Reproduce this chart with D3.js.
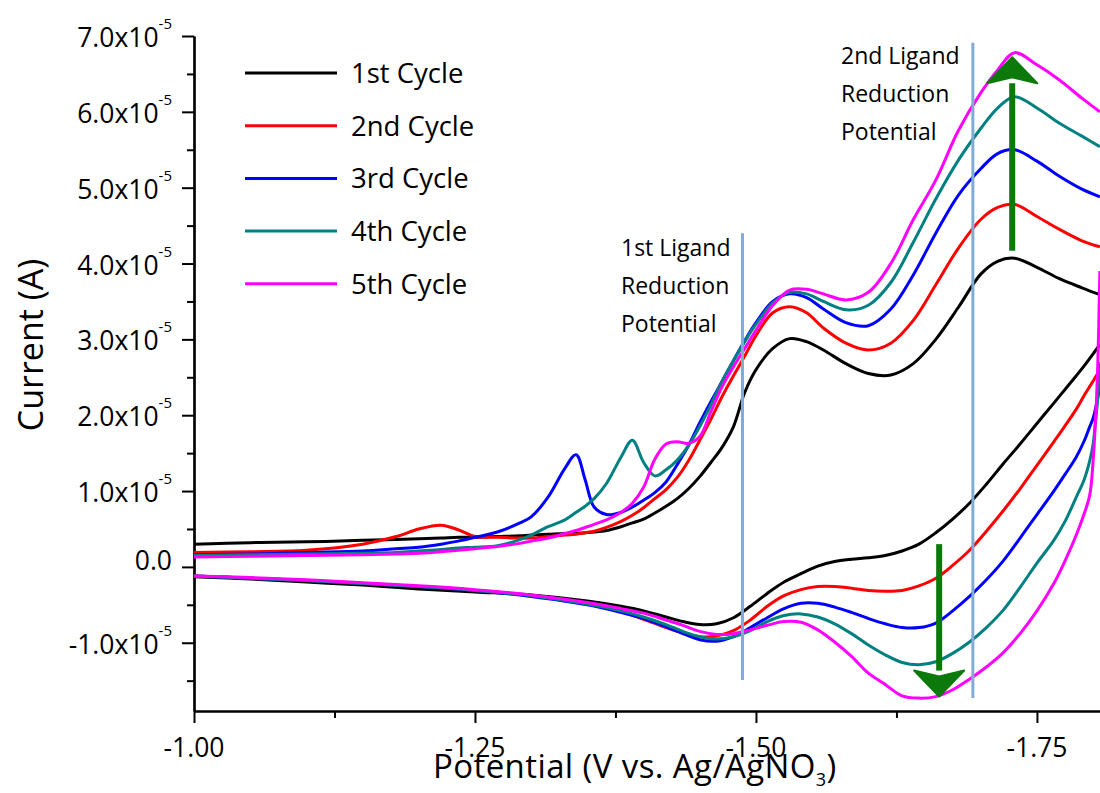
<!DOCTYPE html>
<html>
<head>
<meta charset="utf-8">
<script src="https://cdn.jsdelivr.net/npm/d3@7"></script>
<style>
  body { margin: 0; background: #fff; }
  text { font-family: "Open Sans", sans-serif; fill: #000; }
</style>
</head>
<body>
<div id="chart"></div>
<script>
// potentials (V vs Ag/AgNO3) for the forward (cathodic) and return scans
var potentialFwd = [-1.00, -1.05, -1.10, -1.15, -1.18, -1.20, -1.22, -1.235, -1.25, -1.27, -1.29, -1.30,
  -1.315, -1.33, -1.34, -1.348, -1.356, -1.367, -1.38, -1.39, -1.40, -1.41, -1.42, -1.43, -1.44, -1.45,
  -1.46, -1.47, -1.48, -1.49, -1.50, -1.515, -1.53, -1.545, -1.56, -1.58, -1.60, -1.62, -1.64, -1.66,
  -1.68, -1.70, -1.715, -1.73, -1.75, -1.77, -1.79, -1.806];

var potentialRev = [-1.806, -1.804, -1.802, -1.80, -1.797, -1.792, -1.785, -1.775, -1.765, -1.75,
  -1.735, -1.72, -1.705, -1.69, -1.675, -1.66, -1.645, -1.63, -1.615, -1.60,
  -1.585, -1.57, -1.555, -1.54, -1.525, -1.51, -1.495, -1.48, -1.465, -1.45,
  -1.435, -1.42, -1.40, -1.38, -1.35, -1.30, -1.25, -1.20, -1.15, -1.10, -1.05, -1.00];

// current in units of 1e-5 A
var cycle1Fwd = [0.30, 0.32, 0.33, 0.35, 0.36, 0.37, 0.38, 0.39, 0.39, 0.40, 0.41, 0.42, 0.43, 0.44, 0.44, 0.45,
  0.46, 0.48, 0.53, 0.58, 0.63, 0.71, 0.80, 0.90, 1.03, 1.19, 1.38, 1.58, 1.85, 2.30, 2.60, 2.88, 3.01, 2.97,
  2.86, 2.68, 2.55, 2.53, 2.68, 3.00, 3.42, 3.86, 4.03, 4.07, 3.95, 3.80, 3.68, 3.59];
var cycle2Fwd = [0.19, 0.20, 0.22, 0.30, 0.40, 0.50, 0.55, 0.49, 0.40, 0.39, 0.38, 0.38, 0.40, 0.42, 0.43, 0.45,
  0.47, 0.52, 0.60, 0.68, 0.78, 0.90, 1.02, 1.18, 1.40, 1.67, 1.95, 2.25, 2.52, 2.78, 3.05, 3.35, 3.43, 3.35,
  3.15, 2.95, 2.86, 2.95, 3.25, 3.72, 4.20, 4.58, 4.74, 4.78, 4.62, 4.45, 4.30, 4.22];
var cycle3Fwd = [0.16, 0.17, 0.19, 0.21, 0.24, 0.26, 0.30, 0.34, 0.39, 0.46, 0.58, 0.66, 0.92, 1.30, 1.48, 1.15,
  0.79, 0.69, 0.72, 0.79, 0.88, 0.98, 1.12, 1.35, 1.60, 1.90, 2.18, 2.45, 2.72, 2.98, 3.22, 3.50, 3.60, 3.55,
  3.40, 3.22, 3.18, 3.40, 3.85, 4.40, 4.90, 5.25, 5.45, 5.50, 5.35, 5.15, 4.98, 4.88];
var cycle4Fwd = [0.15, 0.16, 0.17, 0.18, 0.19, 0.21, 0.23, 0.25, 0.26, 0.28, 0.36, 0.42, 0.53, 0.62, 0.72, 0.80,
  0.90, 1.10, 1.45, 1.67, 1.38, 1.20, 1.28, 1.41, 1.60, 1.85, 2.14, 2.45, 2.72, 2.97, 3.20, 3.48, 3.62, 3.60,
  3.50, 3.39, 3.45, 3.75, 4.28, 4.85, 5.36, 5.78, 6.05, 6.20, 6.05, 5.85, 5.68, 5.54];
var cycle5Fwd = [0.13, 0.14, 0.15, 0.16, 0.17, 0.18, 0.20, 0.22, 0.24, 0.27, 0.31, 0.34, 0.38, 0.44, 0.48, 0.52,
  0.56, 0.62, 0.72, 0.84, 1.05, 1.42, 1.62, 1.65, 1.63, 1.72, 2.05, 2.38, 2.64, 2.88, 3.12, 3.45, 3.65, 3.66,
  3.60, 3.52, 3.62, 4.00, 4.58, 5.10, 5.75, 6.25, 6.55, 6.78, 6.62, 6.42, 6.18, 6.00];

var cycle1Rev = [2.93, 2.89, 2.85, 2.81, 2.75, 2.65, 2.52, 2.34, 2.16, 1.89, 1.62, 1.36, 1.09, 0.84, 0.63, 0.45,
  0.30, 0.21, 0.15, 0.12, 0.10, 0.07, 0.01, -0.09, -0.20, -0.35, -0.52, -0.67, -0.75, -0.76, -0.72, -0.66,
  -0.58, -0.52, -0.45, -0.37, -0.33, -0.29, -0.24, -0.20, -0.16, -0.13];
var cycle2Rev = [2.60, 2.55, 2.50, 2.45, 2.38, 2.26, 2.08, 1.86, 1.65, 1.34, 1.03, 0.74, 0.47, 0.22, 0.02, -0.15,
  -0.25, -0.31, -0.32, -0.31, -0.28, -0.26, -0.26, -0.30, -0.38, -0.52, -0.70, -0.84, -0.91, -0.92, -0.87, -0.80,
  -0.69, -0.59, -0.49, -0.38, -0.31, -0.26, -0.22, -0.18, -0.15, -0.12];
var cycle3Rev = [2.40, 2.22, 2.08, 1.96, 1.85, 1.66, 1.45, 1.22, 1.00, 0.69, 0.38, 0.08, -0.17, -0.39, -0.58, -0.74,
  -0.80, -0.80, -0.75, -0.68, -0.60, -0.53, -0.48, -0.48, -0.55, -0.67, -0.80, -0.92, -0.98, -0.96, -0.88, -0.79,
  -0.68, -0.60, -0.50, -0.39, -0.31, -0.26, -0.22, -0.18, -0.15, -0.12];
var cycle4Rev = [2.70, 2.20, 1.90, 1.62, 1.40, 1.15, 0.92, 0.60, 0.35, 0.05, -0.27, -0.57, -0.80, -0.99, -1.14, -1.25,
  -1.29, -1.26, -1.16, -1.03, -0.88, -0.75, -0.66, -0.62, -0.64, -0.72, -0.84, -0.92, -0.95, -0.92, -0.85, -0.76,
  -0.66, -0.58, -0.49, -0.38, -0.31, -0.26, -0.22, -0.18, -0.15, -0.12];
var cycle5Rev = [3.90, 2.60, 1.90, 1.40, 0.95, 0.70, 0.42, 0.08, -0.22, -0.58, -0.88, -1.13, -1.32, -1.48, -1.62, -1.71,
  -1.73, -1.70, -1.55, -1.40, -1.18, -0.99, -0.83, -0.73, -0.72, -0.77, -0.83, -0.88, -0.89, -0.85, -0.77, -0.70,
  -0.61, -0.55, -0.47, -0.37, -0.30, -0.25, -0.21, -0.17, -0.14, -0.12];

var cycleNames = ["1st Cycle", "2nd Cycle", "3rd Cycle", "4th Cycle", "5th Cycle"];
var cycleColors = ["#000000", "#ff0000", "#0000ff", "#008080", "#ff00ff"];

var xTickValues = [-1.00, -1.25, -1.50, -1.75];
var xMinorValues = [-1.125, -1.375, -1.625];
var yTickValues = [-1, 0, 1, 2, 3, 4, 5, 6, 7];
var yMinorValues = [-1.5, -0.5, 0.5, 1.5, 2.5, 3.5, 4.5, 5.5, 6.5];

// annotation positions (potential, current x1e-5)
var ligandLines = [
  { v: -1.488, top: 4.40, bottom: -1.49 },
  { v: -1.693, top: 6.91, bottom: -1.73 }
];
var arrows = [
  { v: -1.728, from: 4.17, to: 6.72 },
  { v: -1.663, from: 0.30, to: -1.71 }
];

var svgWidth = 1100;
var svgHeight = 793;

var svg = d3.select("#chart")
  .append("svg")
  .attr("width", svgWidth)
  .attr("height", svgHeight);

var x = d3.scaleLinear().domain([-1.0, -1.807]).range([194, 1101]);
var y = d3.scaleLinear().domain([-1.9, 7.0]).range([711, 36]);

svg.append("clipPath").attr("id", "plotClip")
  .append("rect")
  .attr("x", 194).attr("y", 30)
  .attr("width", 907).attr("height", 681);

// axes
svg.append("g")
  .attr("transform", "translate(194,0)")
  .call(d3.axisLeft(y).tickValues(yMinorValues).tickSize(7).tickSizeOuter(0).tickFormat(""));
svg.append("g")
  .attr("transform", "translate(194,0)")
  .call(d3.axisLeft(y).tickValues(yTickValues).tickSize(12).tickSizeOuter(0).tickFormat(""));
svg.append("g")
  .attr("transform", "translate(0,711)")
  .call(d3.axisBottom(x).tickValues(xMinorValues).tickSize(7).tickSizeOuter(0).tickFormat(""));
svg.append("g")
  .attr("transform", "translate(0,711)")
  .call(d3.axisBottom(x).tickValues(xTickValues).tickSize(12).tickSizeOuter(0).tickFormat(""));

svg.selectAll(".domain").attr("stroke", "#000").attr("stroke-width", 2.2);
svg.selectAll(".tick line").attr("stroke", "#000").attr("stroke-width", 2);

// y tick labels like 7.0x10^-5
yTickValues.forEach(function(v) {
  var t = svg.append("text")
    .attr("x", 172)
    .attr("y", y(v) + (v === 0 ? 3 : 11))
    .attr("text-anchor", "end")
    .style("font-size", "26.5px");
  if (v === 0) {
    t.text("0.0");
  } else {
    t.append("tspan").text(v.toFixed(1) + "x10");
    t.append("tspan").attr("dy", -18).style("font-size", "15px").text("-5");
  }
});

xTickValues.forEach(function(v) {
  svg.append("text")
    .attr("x", x(v))
    .attr("y", 757)
    .attr("text-anchor", "middle")
    .style("font-size", "26.5px")
    .text(v.toFixed(2));
});

// axis titles
var xTitle = svg.append("text")
  .attr("x", 433)
  .attr("y", 778)
  .style("font-size", "33px")
  .style("letter-spacing", "0.4px");
xTitle.append("tspan").text("Potential (V vs. Ag/AgNO");
xTitle.append("tspan").attr("dy", 8).style("font-size", "18px").text("3");
xTitle.append("tspan").attr("dy", -8).text(")");

svg.append("text")
  .attr("transform", "translate(43,345) rotate(-90)")
  .attr("text-anchor", "middle")
  .style("font-size", "34px")
  .text("Current (A)");

// curves
var fwdData = [cycle1Fwd, cycle2Fwd, cycle3Fwd, cycle4Fwd, cycle5Fwd];
var revData = [cycle1Rev, cycle2Rev, cycle3Rev, cycle4Rev, cycle5Rev];

var plot = svg.append("g").attr("clip-path", "url(#plotClip)");

function makeLine(potentials) {
  return d3.line()
    .x(function(d, i) { return x(potentials[i]); })
    .y(function(d) { return y(d); })
    .curve(d3.curveCatmullRom.alpha(0.5));
}

cycleNames.forEach(function(name, i) {
  plot.append("path")
    .attr("d", makeLine(potentialFwd)(fwdData[i]))
    .attr("fill", "none")
    .attr("stroke", cycleColors[i])
    .attr("stroke-width", 3);
  plot.append("path")
    .attr("d", makeLine(potentialRev)(revData[i]))
    .attr("fill", "none")
    .attr("stroke", cycleColors[i])
    .attr("stroke-width", 3);
});

// ligand reduction markers
ligandLines.forEach(function(l) {
  svg.append("line")
    .attr("x1", x(l.v)).attr("x2", x(l.v))
    .attr("y1", y(l.top)).attr("y2", y(l.bottom))
    .attr("stroke", "#82abd3")
    .attr("stroke-width", 3);
});

// green arrows
arrows.forEach(function(a) {
  var ax = x(a.v);
  var y0 = y(a.from);
  var y1 = y(a.to);
  var dir = y1 < y0 ? 1 : -1;
  var headLen = 26;
  var halfW = 25;
  svg.append("line")
    .attr("x1", ax).attr("x2", ax)
    .attr("y1", y0).attr("y2", y1 + dir * headLen)
    .attr("stroke", "#0b7a0b")
    .attr("stroke-width", 6);
  svg.append("path")
    .attr("d", "M" + ax + "," + y1 +
      "L" + (ax + halfW) + "," + (y1 + dir * headLen) +
      "L" + ax + "," + (y1 + dir * (headLen - 6)) +
      "L" + (ax - halfW) + "," + (y1 + dir * headLen) + "Z")
    .attr("fill", "#0b7a0b")
    .attr("stroke", "#0b7a0b")
    .attr("stroke-width", 2)
    .attr("stroke-linejoin", "round");
});

// annotation texts
var note1 = ["1st Ligand", "Reduction", "Potential"];
var note2 = ["2nd Ligand", "Reduction", "Potential"];
note1.forEach(function(s, i) {
  svg.append("text").attr("x", 621).attr("y", 256 + i * 38)
    .style("font-size", "23px").text(s);
});
note2.forEach(function(s, i) {
  svg.append("text").attr("x", 841).attr("y", 64 + i * 38)
    .style("font-size", "23px").text(s);
});

// legend
var legend = svg.append("g");
cycleNames.forEach(function(name, i) {
  var ly = 73 + i * 52.7;
  legend.append("line")
    .attr("x1", 245).attr("x2", 337)
    .attr("y1", ly).attr("y2", ly)
    .attr("stroke", cycleColors[i])
    .attr("stroke-width", 3);
  legend.append("text")
    .attr("x", 351)
    .attr("y", ly + 10)
    .style("font-size", "27.5px")
    .text(name);
});
</script>
</body>
</html>
